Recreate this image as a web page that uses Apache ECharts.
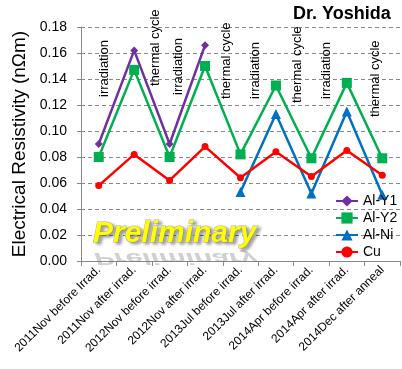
<!DOCTYPE html>
<html><head><meta charset="utf-8">
<script src="https://cdn.jsdelivr.net/npm/echarts@6/dist/echarts.min.js"></script>
<style>html,body{margin:0;padding:0;background:#fff}#c{width:402px;height:369px}</style>
</head><body><div id="c"></div>
<script>
const categories = ['2011Nov before Irrad.','2011Nov after irrad.','2012Nov before irrad.','2012Nov after irrad.','2013Jul before irrad.','2013Jul after irrad.','2014Apr before irrad.','2014Apr after irrad.','2014Dec after anneal'];
const alY1 = [0.090,0.162,0.090,0.166,null,null,null,null,null];
const alY2 = [0.080,0.147,0.080,0.150,0.082,0.135,0.079,0.137,0.079];
const alNi = [null,null,null,null,0.053,0.113,0.052,0.115,0.051];
const cu   = [0.058,0.082,0.062,0.088,0.064,0.084,0.065,0.085,0.066];
const seriesNames = ['Al-Y1','Al-Y2','Al-Ni','Cu'];
const annotationTexts = ['irradiation','thermal cycle','irradiation','thermal cycle','irradiation','thermal cycle','irradiation','thermal cycle'];
const FONT = 'Liberation Sans, Arial, sans-serif';

const annotPos = [[104,97],[155,86],[178,95],[226,99],[255,99],[297,103],[326,99],[375,117]];
const graphics = annotationTexts.map((t,i)=>({
  type:'text', x:annotPos[i][0], y:annotPos[i][1], rotation:Math.PI/2, z:100,
  style:{text:t, fontSize:13, fontFamily:FONT, fill:'#000', align:'left', verticalAlign:'middle'}
}));
graphics.push({type:'text', x:293, y:5, z:100, style:{text:'Dr. Yoshida', fontSize:18, fontWeight:'bold', fontFamily:FONT, fill:'#000'}});
graphics.push({type:'text', x:94, y:249, scaleY:-0.55, z:90,
  style:{text:'Preliminary', fontSize:30, fontStyle:'italic', fontWeight:'bold', fontFamily:FONT, fill:'rgba(120,120,120,0.35)', verticalAlign:'bottom', align:'left'}});
graphics.push({type:'text', x:93, y:249, z:100,
  style:{text:'Preliminary', fontSize:30, fontStyle:'italic', fontWeight:'bold', fontFamily:FONT, fill:'#FFFF00', stroke:'#b0b0b0', lineWidth:1, verticalAlign:'bottom', align:'left',
    textShadowColor:'rgba(0,0,0,0.35)', textShadowBlur:3, textShadowOffsetX:3, textShadowOffsetY:2}});

const mk = (name,data,color,symbol,size)=>({
  name, type:'line', data, connectNulls:false, symbol, symbolSize:size, showAllSymbol:true,
  lineStyle:{color, width:2.5}, itemStyle:{color}, animation:false
});

const chart = echarts.init(document.getElementById('c'));
chart.setOption({
  animation:false,
  backgroundColor:'#fff',
  textStyle:{fontFamily:FONT},
  grid:{left:81, right:2, top:27, bottom:108, containLabel:false},
  legend:{orient:'vertical', left:335, top:194, padding:0, itemGap:3, itemWidth:22, itemHeight:14, itemTextGap:2,
    data:seriesNames, textStyle:{fontSize:14, color:'#000', fontFamily:FONT}},
  xAxis:{type:'category', data:categories, boundaryGap:true,
    axisLine:{lineStyle:{color:'#888', width:1}},
    axisTick:{show:true, length:5, lineStyle:{color:'#888'}},
    axisLabel:{rotate:45, fontSize:12, color:'#000', margin:7, interval:0, fontFamily:FONT}},
  yAxis:{type:'value', min:0, max:0.18, interval:0.02,
    name:'Electrical Resistivity (nΩm)', nameLocation:'middle', nameGap:48,
    nameTextStyle:{fontSize:19, color:'#000', fontFamily:FONT},
    axisLine:{show:true, lineStyle:{color:'#888'}},
    axisTick:{show:true, length:4, lineStyle:{color:'#888'}},
    axisLabel:{fontSize:14, color:'#000', margin:14, formatter:v=>v.toFixed(2), fontFamily:FONT},
    splitLine:{lineStyle:{color:'#888', type:[4,3]}}},
  series:[
    mk('Al-Y1',alY1,'#7030A0','diamond',8),
    mk('Al-Y2',alY2,'#00B050','rect',10),
    mk('Al-Ni',alNi,'#0070C0','triangle',10),
    mk('Cu',cu,'#FF0000','circle',7)
  ],
  graphic:graphics
});
</script></body></html>
